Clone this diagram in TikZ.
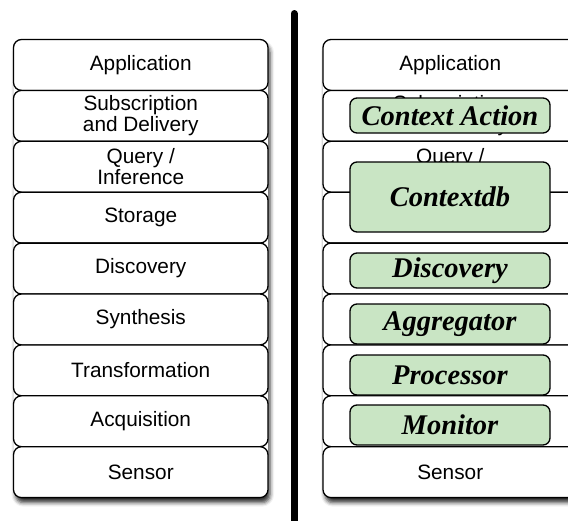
\documentclass[tikz,border=0pt]{standalone}
\usepackage{fontspec}
\setmainfont{Liberation Sans}
\newfontfamily\compfont{Liberation Serif}
\usetikzlibrary{shadows.blur}
\definecolor{compgreen}{RGB}{201,229,196}
\tikzset{
  layer/.style={draw, line width=1.3pt, fill=white, rounded corners=8pt,
    minimum width=254.5pt, minimum height=50.9pt, inner sep=0pt, align=center,
    font=\fontsize{20.8}{21}\selectfont},
  comp/.style={draw, line width=1.3pt, fill=compgreen, rounded corners=7pt,
    minimum width=200pt, inner sep=0pt,
    font=\compfont\bfseries\itshape\fontsize{28.5}{29}\selectfont},
  stackshadow/.style={fill=white, rounded corners=8pt,
    blur shadow={shadow xshift=2pt, shadow yshift=-5pt,
      shadow blur radius=4pt, shadow opacity=80}}
}
\begin{document}
\begin{tikzpicture}[x=1pt, y=1pt]
\useasboundingbox (0,0) rectangle (568,-520);
\clip (0,0) rectangle (568,-520);
% Masse der Schichten
\def\rowtop{39.5}  % Oberkante
\def\rowh{50.9}    % Hoehe einer Schicht
\def\xl{140.75}    % Mitte linker Stapel
\def\xr{450.25}    % Mitte rechter Stapel
% Schatten unter den Stapeln
\path[stackshadow] (13.5,-39.5) rectangle (268,-497.6);
\path[stackshadow] (323,-39.5) rectangle (577.5,-497.6);
% Schichten links
\foreach \lbl [count=\i] in {Application, {Subscription\\and Delivery},
    {Query /\\Inference}, Storage, Discovery, Synthesis, Transformation,
    Acquisition, Sensor}
  \node[layer] (L\i) at (\xl, {-\rowtop-\rowh*(\i-0.5)}) {\lbl};
% Schichten rechts (verdeckte Texte weggelassen)
\foreach \lbl [count=\i] in {Application, {Subscription\\and Delivery},
    {Query /\\Inference}, {}, {}, {}, {}, {}, Sensor}
  \node[layer] (R\i) at (\xr, {-\rowtop-\rowh*(\i-0.5)}) {\lbl};
% Trennlinie
\draw[line width=7pt, line cap=round] (294,-13.5) -- (294,-530);
% Komponenten
\node[comp, minimum height=35pt] (action)     at (450,-115.5) {Context Action};
\node[comp, minimum height=70pt] (contextdb)  at (450,-197)   {Contextdb};
\node[comp, minimum height=35pt] (discovery)  at (450,-270.5) {Discovery};
\node[comp, minimum height=40pt] (aggregator) at (450,-324)   {Aggregator};
\node[comp, minimum height=40pt] (processor)  at (450,-375)   {Processor};
\node[comp, minimum height=40pt] (monitor)    at (450,-425)   {Monitor};
\end{tikzpicture}
\end{document}
